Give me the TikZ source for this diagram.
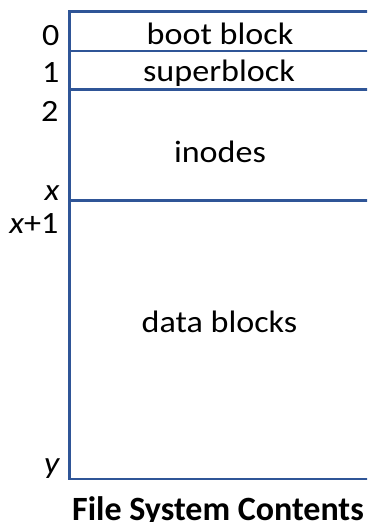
\documentclass[tikz,border=0pt]{standalone}
\usepackage{fontspec}
\setmainfont{Carlito}
\definecolor{fsblue}{HTML}{2F5597}
\newcommand{\wide}[1]{\scalebox{1.1}[1]{#1}}
\begin{document}
\begin{tikzpicture}[x=1pt,y=-1pt,
  edge/.style={draw=fsblue,line width=2.7pt},
  lbl/.style={anchor=base east,inner sep=0pt,font=\fontsize{31}{34}\selectfont},
  part/.style={anchor=base,inner sep=0pt,font=\fontsize{31}{34}\selectfont}]
\useasboundingbox (0,0) rectangle (367,522);
\clip (0,0) rectangle (367,522);
\coordinate (tl) at (69.7,11.5);
\coordinate (bl) at (69.7,479);
\coordinate (tr) at (380,11.5);
\coordinate (br) at (380,479);
\coordinate (a1) at (69.7,51);   \coordinate (b1) at (380,51);
\coordinate (a2) at (69.7,89.5); \coordinate (b2) at (380,89.5);
\coordinate (a3) at (69.7,200.7);\coordinate (b3) at (380,200.7);
\draw[edge] (tr) -- (tl) -- (bl) -- (br);
\draw[edge] (a1) -- (b1);
\draw[edge] (a2) -- (b2);
\draw[edge] (a3) -- (b3);
\node[part] (boot) at (220,44) {\wide{boot block}};
\node[part] (super) at (219,81) {\wide{superblock}};
\node[part] (inodes) at (220,162) {\wide{inodes}};
\node[part] (data) at (219.5,332) {\wide{data blocks}};
\node[lbl] (l0) at (59.5,45) {\wide{0}};
\node[lbl] (l1) at (59.5,82) {\wide{1}};
\node[lbl] (l2) at (58.5,121.5) {\wide{2}};
\node[lbl] (lx) at (59.5,200) {\wide{\itshape x}};
\node[lbl] (lx1) at (58.5,233) {\wide{\itshape x\upshape+1}};
\node[lbl] (ly) at (59.5,473) {\wide{\itshape y}};
\node[inner sep=0pt,anchor=base west,font=\bfseries\fontsize{34}{38}\selectfont] (cap) at (72,520) {File System Contents};
\end{tikzpicture}
\end{document}
